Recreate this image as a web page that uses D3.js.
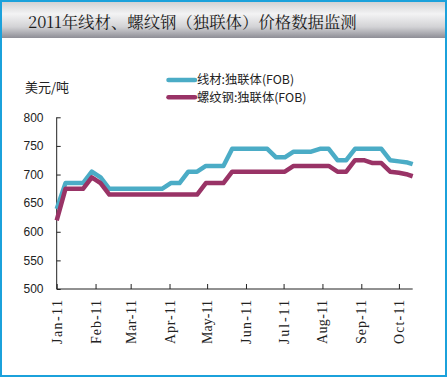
<!DOCTYPE html>
<html><head><meta charset="utf-8">
<script src="https://cdn.jsdelivr.net/npm/d3@7"></script>
<style>html,body{margin:0;padding:0;background:#fff;}svg{display:block;}</style>
</head><body>
<svg id="c" width="448" height="379"></svg>
<script>
const dates = ["2011-01-01","2011-01-08","2011-01-15","2011-01-22","2011-01-29",
  "2011-02-05","2011-02-12","2011-02-19","2011-02-26",
  "2011-03-05","2011-03-12","2011-03-19","2011-03-26",
  "2011-04-02","2011-04-09","2011-04-16","2011-04-23","2011-04-30",
  "2011-05-07","2011-05-14","2011-05-21","2011-05-28",
  "2011-06-04","2011-06-11","2011-06-18","2011-06-25",
  "2011-07-02","2011-07-09","2011-07-16","2011-07-23","2011-07-30",
  "2011-08-06","2011-08-13","2011-08-20","2011-08-27",
  "2011-09-03","2011-09-10","2011-09-17","2011-09-24",
  "2011-10-01","2011-10-08","2011-10-12"];
const wireRod = [640,685,685,685,705,695,675,675,675,675,675,675,675,685,685,705,705,715,715,715,
  745,745,745,745,745,730,730,740,740,740,745,745,725,725,745,745,745,745,725,723,721,718];
const rebar = [620,675,675,675,695,685,665,665,665,665,665,665,665,665,665,665,665,685,685,685,
  705,705,705,705,705,705,705,715,715,715,715,715,705,705,725,725,720,720,705,703,700,697];
const seriesNames = ["线材:独联体(FOB)","螺纹钢:独联体(FOB)"];
const yTicks = [500,550,600,650,700,750,800];
const monthTicks = ["2011-01-01","2011-02-01","2011-03-01","2011-04-01","2011-05-01","2011-06-01",
  "2011-07-01","2011-08-01","2011-09-01","2011-10-01"];
const monthLabels = ["Jan-11","Feb-11","Mar-11","Apr-11","May-11","Jun-11","Jul-11","Aug-11","Sep-11","Oct-11"];
const title = "2011年线材、螺纹钢（独联体）价格数据监测";
const unit = "美元/吨";

const parse = d3.timeParse("%Y-%m-%d");
const svg = d3.select("#c");
const colors = ["#4BACC6","#993366"];

// header gradient
const defs = svg.append("defs");
const g1 = defs.append("linearGradient").attr("id","hdr").attr("x1",0).attr("y1",0).attr("x2",0).attr("y2",1);
g1.append("stop").attr("offset","0%").attr("stop-color","#cfcfd1");
g1.append("stop").attr("offset","35%").attr("stop-color","#f3f3f4");
g1.append("stop").attr("offset","70%").attr("stop-color","#d2d2d5");
g1.append("stop").attr("offset","100%").attr("stop-color","#8e8e96");
svg.append("rect").attr("x",1).attr("y",1).attr("width",445).attr("height",37).attr("fill","url(#hdr)");
svg.append("rect").attr("x",1).attr("y",1).attr("width",445).attr("height",375)
  .attr("fill","none").attr("stroke","#1BA1DB").attr("stroke-width",2);

svg.append("text").attr("x",28).attr("y",28).text(title)
  .attr("font-family","'Noto Serif CJK SC','Noto Sans CJK SC',serif").attr("font-size",16.4).attr("fill","#1a1a1a");

const x = d3.scaleTime().domain([parse("2011-01-01"), parse("2011-10-12")]).range([56.7, 412.7]);
const y = d3.scaleLinear().domain([500,800]).range([289,117.3]);

// y axis
const ya = svg.append("g").attr("transform","translate(56.7,0)")
  .call(d3.axisRight(y).tickValues(yTicks).tickSize(4).tickFormat(""));
ya.select(".domain").attr("stroke","#222").attr("d","M0,"+y(800)+"H0V"+y(500));
ya.selectAll(".tick line").attr("stroke","#222");
svg.append("g").selectAll("text").data(yTicks).join("text")
  .attr("x",43.5).attr("y",d=>y(d)).attr("dy","0.36em").attr("text-anchor","end")
  .attr("font-family","'Liberation Sans',Arial,sans-serif").attr("font-size",12).attr("fill","#222")
  .text(d=>d);

// x axis
const xa = svg.append("g").attr("transform","translate(0,289)")
  .call(d3.axisTop(x).tickValues(monthTicks.map(parse)).tickSize(5).tickFormat(""));
xa.select(".domain").attr("stroke","#222").attr("d","M56.7,0H412.7");
xa.selectAll(".tick line").attr("stroke","#222");
svg.append("g").selectAll("text").data(monthTicks).join("text")
  .attr("transform",(d)=>"translate("+x(parse(d))+",300) rotate(-90)")
  .attr("dy","0.36em").attr("text-anchor","end")
  .attr("font-family","'Liberation Serif',serif").attr("font-size",14).attr("fill","#222")
  .attr("textLength",44).attr("lengthAdjust","spacing")
  .text((d,i)=>monthLabels[i]);

// unit
svg.append("text").attr("x",25).attr("y",92).text(unit)
  .attr("font-family","'Noto Sans CJK SC',sans-serif").attr("font-size",13).attr("fill","#222");

// lines
const line = d3.line().x(d=>x(d.date)).y(d=>y(d.v));
[wireRod, rebar].forEach((vals,k)=>{
  const data = dates.map((d,i)=>({date:parse(d), v:vals[i]}));
  svg.append("path").datum(data).attr("d",line).attr("fill","none")
    .attr("stroke",colors[k]).attr("stroke-width",4.5).attr("stroke-linejoin","round");
});

// legend
const lg = svg.append("g");
seriesNames.forEach((n,k)=>{
  const ly = 80 + k*17.3;
  lg.append("line").attr("x1",168.5).attr("x2",195).attr("y1",ly).attr("y2",ly)
    .attr("stroke",colors[k]).attr("stroke-width",4.5).attr("stroke-linecap","round");
  lg.append("text").attr("x",197).attr("y",ly).attr("dy","0.36em").text(n)
    .attr("font-family","'Noto Sans CJK SC',sans-serif").attr("font-size",12.3).attr("fill","#222");
});
</script>
</body></html>
